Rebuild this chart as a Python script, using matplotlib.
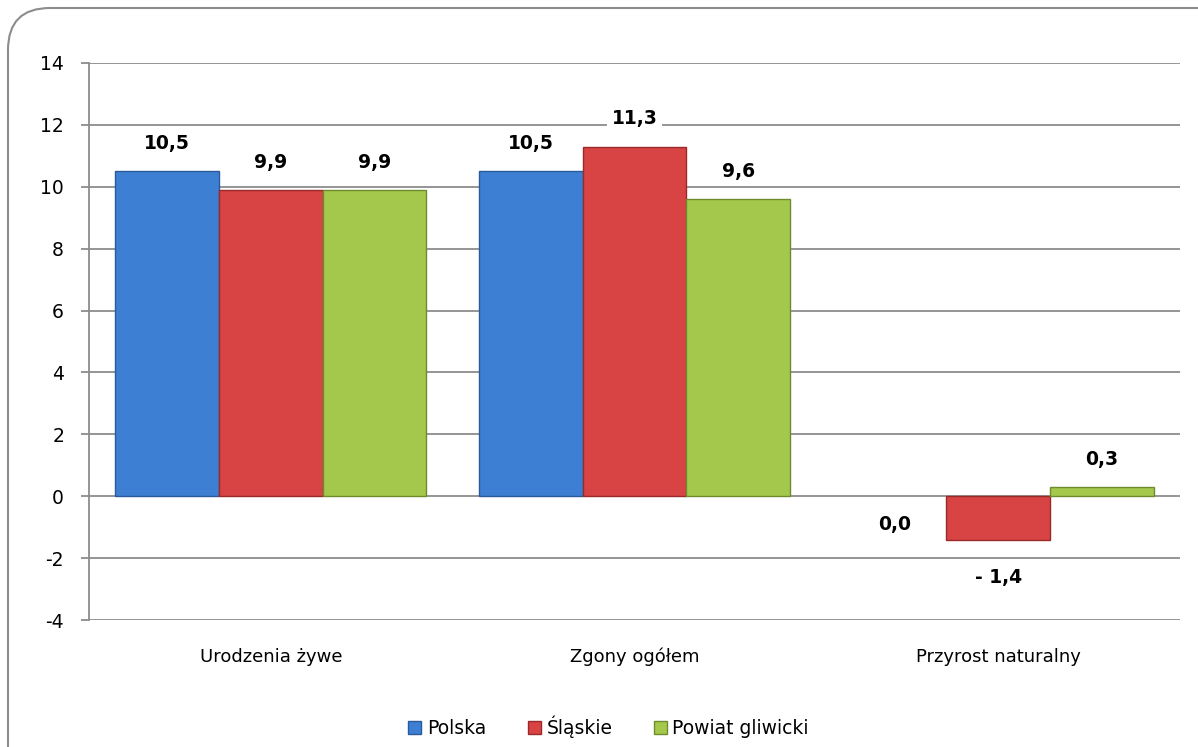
import matplotlib
matplotlib.use("Agg")
import matplotlib.pyplot as plt
from matplotlib.patches import FancyBboxPatch
import numpy as np

categories = ["Urodzenia żywe", "Zgony ogółem", "Przyrost naturalny"]
series_names = ["Polska", "Śląskie", "Powiat gliwicki"]
polska = [10.5, 10.5, 0.0]
slaskie = [9.9, 11.3, -1.4]
powiat = [9.9, 9.6, 0.3]
yticks = [-4, -2, 0, 2, 4, 6, 8, 10, 12, 14]

colors = ["#3d7fd3", "#d84343", "#a4c84c"]
edges = ["#2a5a9a", "#9a2a2a", "#6f8c2c"]

fig = plt.figure(figsize=(11.98, 7.47), dpi=100)
border = FancyBboxPatch((0.08, -1.0), 13.0, 8.39, boxstyle="round,pad=0,rounding_size=0.42",
                        transform=fig.dpi_scale_trans, fill=False, edgecolor="#8c8c8c", linewidth=1.5)
fig.patches.append(border)

ax = fig.add_axes([0.0743, 0.170, 0.9107, 0.7457])
x = np.arange(len(categories))
w = 0.285
data = [polska, slaskie, powiat]
for i, (vals, c, ec) in enumerate(zip(data, colors, edges)):
    xs = x + (i - 1) * w
    lws = [0 if v == 0 else 1.0 for v in vals]
    ax.bar(xs, vals, width=w, color=c, edgecolor=ec, linewidth=lws, zorder=3)
    for xi, v in zip(xs, vals):
        txt = f"{abs(v):.1f}".replace(".", ",")
        if v < 0:
            txt = "- " + txt
        if v > 0:
            off = 20
        elif v == 0:
            off = -20
        else:
            off = -27
        ax.annotate(txt, (xi, v), xytext=(0, off), textcoords="offset points",
                    ha="center", va="center", fontsize=13.5, fontweight="bold",
                    bbox=dict(facecolor="white", edgecolor="none", pad=3), zorder=4)

ax.set_xlim(-0.5, 2.5)
ax.set_ylim(-4, 14)
ax.set_yticks(yticks)
ax.set_yticklabels([str(t) for t in yticks], fontsize=13.5)
ax.set_xticks(x)
ax.set_xticklabels(categories, fontsize=13)
ax.tick_params(axis="x", length=0, pad=20)
ax.tick_params(axis="y", length=6, color="#8c8c8c", width=1.3, pad=12)
ax.yaxis.grid(True, color="#8c8c8c", linewidth=1.3, zorder=0)
ax.set_axisbelow(True)
for s in ["top", "right", "bottom"]:
    ax.spines[s].set_visible(False)
ax.spines["left"].set_color("#8c8c8c")
ax.spines["left"].set_linewidth(1.3)

handles = [plt.Rectangle((0, 0), 1, 1, facecolor=c, edgecolor=ec) for c, ec in zip(colors, edges)]
fig.legend(handles, series_names, loc="center", bbox_to_anchor=(0.508, 0.027), ncol=3,
           frameon=False, fontsize=13.5, handlelength=0.7, handleheight=0.7,
           handletextpad=0.3, columnspacing=2.2)

fig.savefig("out.png", dpi=100)
